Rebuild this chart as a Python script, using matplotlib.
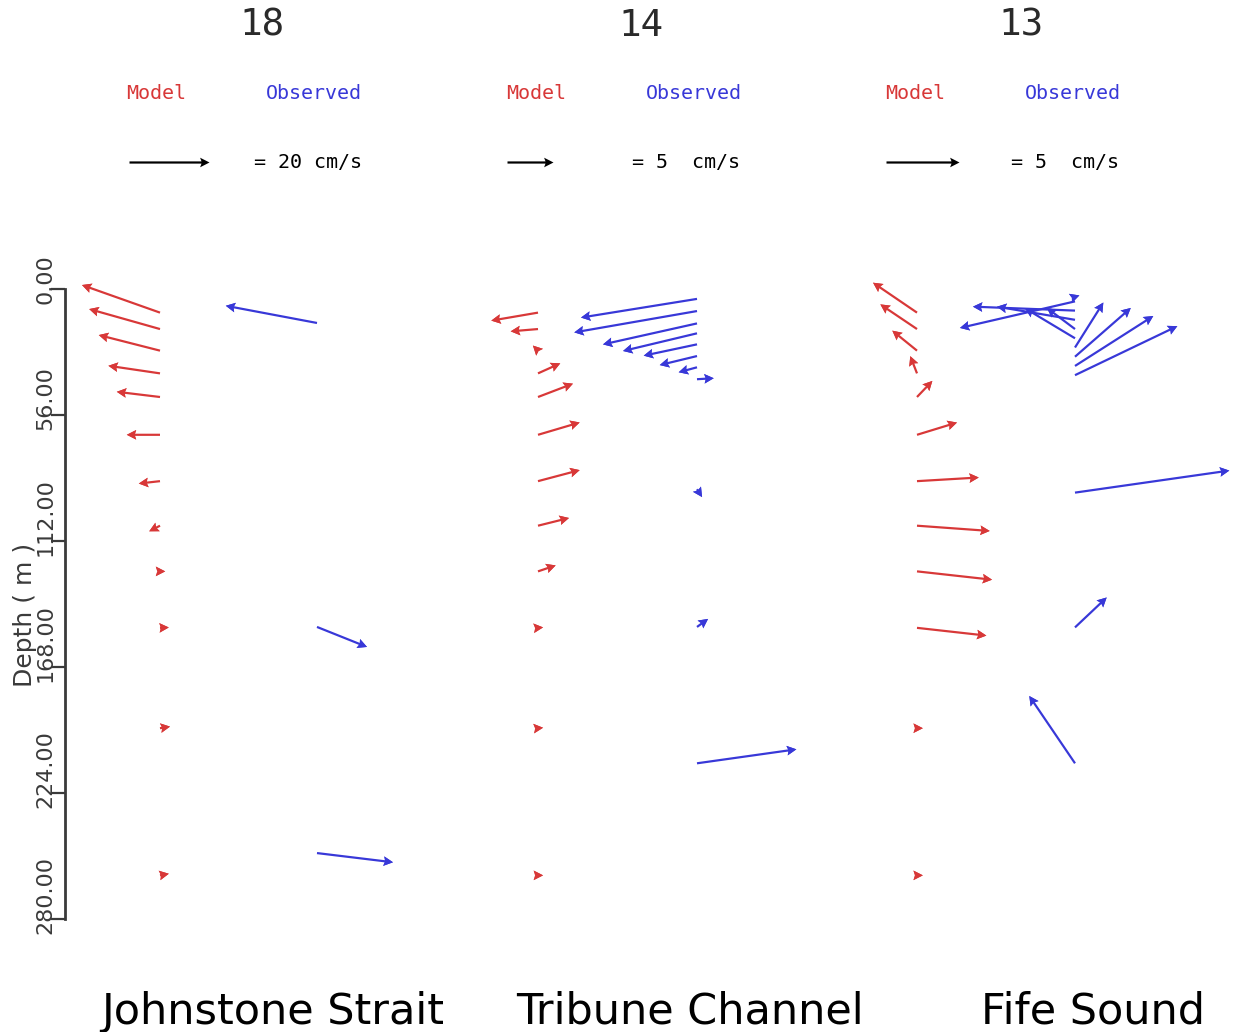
import numpy as np
import matplotlib
matplotlib.use("Agg")
import matplotlib.pyplot as plt
from matplotlib import transforms

# ---------------------------------------------------------------------------
# Data: current profiles (u = east, v = north, cm/s) at three stations
# ---------------------------------------------------------------------------
depth_ticks = [0, 56, 112, 168, 224, 280]
depth_tick_labels = ["0.00", "56.00", "112.00", "168.00", "224.00", "280.00"]

station_names = ["Johnstone Strait", "Tribune Channel", "Fife Sound"]
station_ids = ["18", "14", "13"]
key_speeds = [20, 5, 5]
key_labels = ["= 20 cm/s", "= 5  cm/s", "= 5  cm/s"]

# model levels (m)
model_depth = [10.5, 17.8, 27.4, 37.5, 48.0, 64.8, 85.4, 105.2, 125.5, 150.6, 195.2, 260.6]

# Johnstone Strait (station 18)
js_model_u = [-19.5, -17.7, -15.3, -12.9, -10.8, -8.3, -5.3, -2.7, 1.3, 2.2, 2.5, 2.2]
js_model_v = [6.9, 5.0, 3.9, 1.9, 1.3, 0.0, -0.6, -1.4, 0.0, 0.1, 0.4, 0.4]
js_obs_depth = [15.1, 150.2, 250.7]
js_obs_u = [-22.8, 12.5, 19.0]
js_obs_v = [4.3, -5.0, -2.3]

# Tribune Channel (station 14)
tc_model_u = [-5.08, -2.97, -0.55, 2.42, 3.80, 4.53, 4.53, 3.37, 1.92, 0.55, 0.55, 0.55]
tc_model_v = [-0.87, -0.25, 0.55, 1.09, 1.45, 1.34, 1.20, 0.84, 0.65, 0.05, 0.05, 0.0]
tc_obs_depth = [4.4, 9.8, 15.3, 19.7, 24.6, 29.8, 34.8, 40.1, 89.0, 150.2, 210.8]
tc_obs_u = [-12.61, -13.34, -10.22, -8.04, -5.79, -4.05, -1.99, 1.82, 0.55, 1.20, 10.80]
tc_obs_v = [-2.03, -2.32, -2.28, -1.92, -1.23, -0.98, -0.54, 0.11, -0.85, 0.87, 1.52]

# Fife Sound (station 13)
fs_model_u = [-3.01, -2.51, -1.69, -0.46, 1.05, 2.74, 4.23, 4.98, 5.14, 4.75, 0.40, 0.40]
fs_model_v = [2.05, 1.69, 1.37, 1.18, 1.10, 0.84, 0.25, -0.36, -0.57, -0.53, 0.0, 0.0]
fs_obs_depth = [3.5, 5.5, 9.6, 13.7, 17.8, 21.9, 26.0, 30.1, 34.2, 38.3, 90.5, 150.4, 210.8]
fs_obs_u = [0.30, -7.88, -6.99, -5.34, -1.92, -3.42, 1.94, 3.82, 5.36, 7.01, 10.57, 2.17, -3.13]
fs_obs_v = [0.10, -1.82, 0.27, 0.90, 1.44, 2.05, 3.08, 3.34, 3.42, 3.36, 1.51, 2.05, 4.61]

model_u = [js_model_u, tc_model_u, fs_model_u]
model_v = [js_model_v, tc_model_v, fs_model_v]
obs_depth = [js_obs_depth, tc_obs_depth, fs_obs_depth]
obs_u = [js_obs_u, tc_obs_u, fs_obs_u]
obs_v = [js_obs_v, tc_obs_v, fs_obs_v]

# ---------------------------------------------------------------------------
# Layout (pixel units; the x axis is laid out one data unit per pixel)
# ---------------------------------------------------------------------------
W, H, DPI = 1233, 1032, 100
AX_LEFT, AX_TOP, AX_BOTTOM = 65, 289, 919
model_x = [160, 538, 917]          # tail column of the model profile
obs_x = [317, 697, 1075]           # tail column of the observed profile
px_per_cms = [4.0, 9.2, 14.6]      # arrow scale of each panel
title_x = [262, 641, 1021]
model_lbl_x = [156, 536, 915]
obs_lbl_x = [314, 694, 1073]
key_tip_x = [209, 553, 959]
key_sep = [0.45, 0.79, 0.52]
name_x = [273, 690, 1093]

RED = "#d83838"
BLUE = "#3838d8"
AXC = "#3a3a3a"
MONO = "DejaVu Sans Mono"


def fx(px):
    return px / W


def fy(py):
    return 1 - py / H


fig = plt.figure(figsize=(W / DPI, H / DPI), dpi=DPI)
fig.patch.set_facecolor("white")

ax = fig.add_axes([fx(AX_LEFT), fy(AX_BOTTOM), (W - AX_LEFT) / W, (AX_BOTTOM - AX_TOP) / H])
ax.set_xlim(AX_LEFT, W)
ax.set_ylim(280, 0)
ax.patch.set_alpha(0)
for side in ["top", "right", "bottom"]:
    ax.spines[side].set_visible(False)
ax.spines["left"].set_linewidth(2.0)
ax.spines["left"].set_color(AXC)
ax.set_xticks([])
ax.set_yticks(depth_ticks)
ax.set_yticklabels([])
ax.tick_params(axis="y", length=10, width=1.6, color=AXC, direction="out")

label_tr = transforms.offset_copy(ax.transData, fig=fig, x=0, y=-15, units="dots")
for d, lab in zip(depth_ticks, depth_tick_labels):
    ax.text(45.5, d, lab, transform=label_tr, rotation=90, rotation_mode="anchor",
            ha="left", va="center", fontsize=16, color=AXC, clip_on=False)

fig.text(fx(25), fy(615), "Depth ( m )", rotation=90, ha="center", va="center",
         fontsize=18, color=AXC)

# Arrow geometry (pixels).  Vectors are drawn as a shaft layer plus a separate
# solid head layer, so short vectors keep a full-size head at their tip.
SHAFT_W = 2.2
HEAD_W, HEAD_L, HEAD_AX = 9.6, 9.4, 8.0
HAIR = 0.02

shaft_kw = dict(angles="uv", scale_units="x", units="dots", width=SHAFT_W,
                headwidth=HEAD_W / SHAFT_W, headlength=HEAD_L / SHAFT_W,
                headaxislength=HEAD_AX / SHAFT_W, minshaft=0, minlength=0,
                clip_on=False)
head_kw = dict(angles="uv", scale_units="x", units="dots", width=HAIR,
               headwidth=HEAD_W / HAIR, headlength=HEAD_L / HAIR,
               headaxislength=HEAD_AX / HAIR, minshaft=0, minlength=0,
               clip_on=False)


def draw_profile(x0, depth, u, v, scale, color):
    xs = np.full(len(depth), x0)
    q = ax.quiver(xs, depth, u, v, scale=scale, color=color, **shaft_kw)
    ax.quiver(xs, depth, u, v, scale=scale, color=color, **head_kw)
    return q


for i in range(3):
    sc = 1.0 / px_per_cms[i]
    qm = draw_profile(model_x[i], model_depth, model_u[i], model_v[i], sc, RED)
    draw_profile(obs_x[i], obs_depth[i], obs_u[i], obs_v[i], sc, BLUE)

    ax.quiverkey(qm, fx(key_tip_x[i]), fy(162), key_speeds[i], key_labels[i],
                 coordinates="figure", labelpos="E", color="black",
                 labelsep=key_sep[i], labelcolor="black",
                 fontproperties={"family": MONO, "size": 14.4})

    fig.text(fx(title_x[i]), fy(26), station_ids[i], ha="center", va="center",
             fontsize=27, family=MONO, color="#2a2a2a")
    fig.text(fx(model_lbl_x[i]), fy(94), "Model", ha="center", va="center",
             fontsize=14.4, family=MONO, color=RED)
    fig.text(fx(obs_lbl_x[i]), fy(94), "Observed", ha="center", va="center",
             fontsize=14.4, family=MONO, color=BLUE)
    fig.text(fx(name_x[i]), fy(1024), station_names[i], ha="center", va="baseline",
             fontsize=31, color="black")

fig.savefig("out.png", dpi=DPI, facecolor="white")
